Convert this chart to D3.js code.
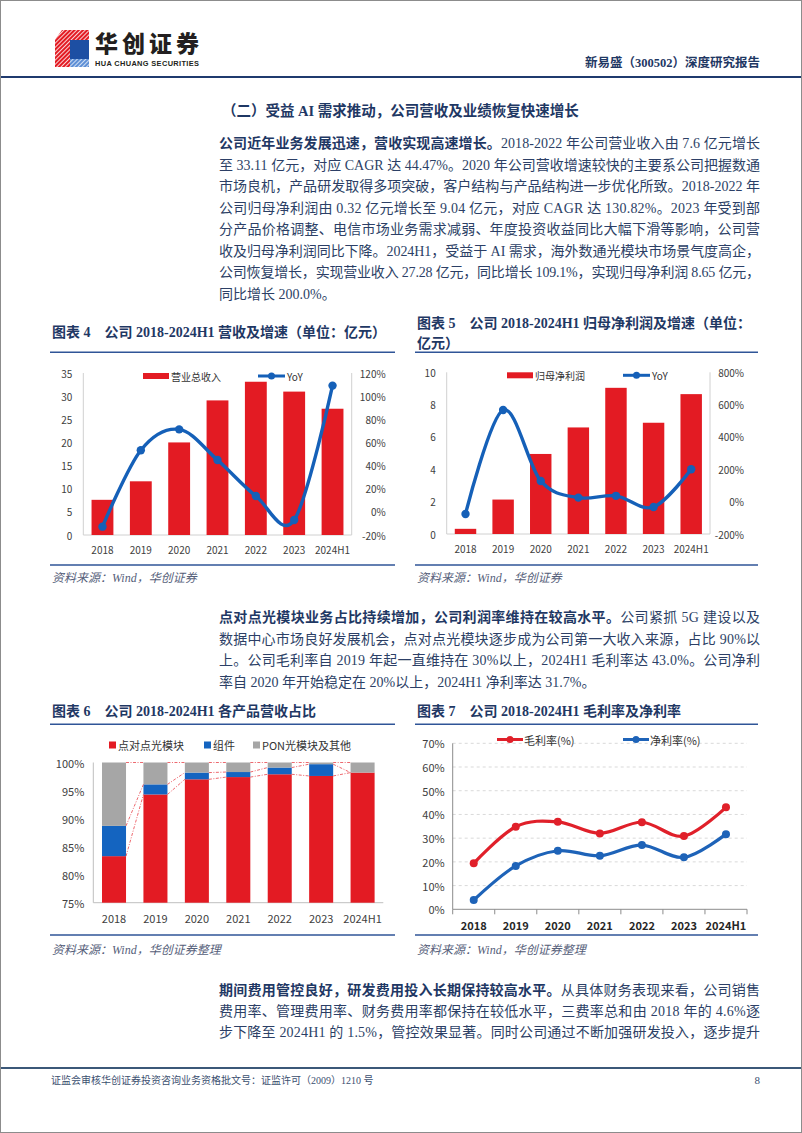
<!DOCTYPE html>
<html><head><meta charset="utf-8">
<script src="https://cdn.jsdelivr.net/npm/d3@7"></script>
<style>
html,body{margin:0;padding:0;background:#fff;}
svg{display:block;}
</style></head><body>
<svg id="page" width="802" height="1133"></svg>
<script>
// ---------- DATA ----------
const years = ["2018","2019","2020","2021","2022","2023","2024H1"];
// 图表4 营收(亿元) & YoY(%)
const revenue = [7.6, 11.6, 20.0, 29.08, 33.11, 30.98, 27.28];
const revenueYoY = [-12.8, 53.2, 71.3, 44.8, 13.7, -7.0, 109.1];
const revTicks = [0,5,10,15,20,25,30,35];
const revYoYTicks = [-20,0,20,40,60,80,100,120];
// 图表5 归母净利润(亿元) & YoY(%)
const netProfit = [0.32, 2.13, 4.95, 6.59, 9.04, 6.88, 8.65];
const netProfitYoY = [-76, 567, 128, 25, 36, -33, 200];
const npTicks = [0,2,4,6,8,10];
const npYoYTicks = [-200,0,200,400,600,800];
// 图表6 各产品营收占比(%)
const shareP2P = [83.3, 94.3, 97.0, 97.4, 97.9, 97.6, 98.2];
const shareModule = [5.4, 1.8, 1.2, 0.9, 1.2, 2.1, 0.0];
const sharePON = [11.3, 3.9, 1.8, 1.7, 0.9, 0.3, 1.8];
const shareTicks = [75,80,85,90,95,100];
// 图表7 毛利率/净利率(%)
const grossMargin = [19.4, 34.8, 36.9, 32.0, 36.7, 30.9, 43.0];
const netMargin = [3.9, 18.3, 24.7, 22.6, 27.1, 21.9, 31.7];
const marginTicks = [0,10,20,30,40,50,60,70];

// ---------- STYLE ----------
const SERIF = '"Liberation Serif","Noto Sans CJK SC",serif';
const SANS = '"Noto Sans CJK SC","Noto Sans",sans-serif';
const NAVY = "#1f3864";
const BODY = "#2c3f66";
const RED = "#e31b23";
const BLUE = "#1560b8";
const GRAY = "#a6a6a6";
const RULE = "#2f5597";

const svg = d3.select("#page");
svg.append("rect").attr("x",0.5).attr("y",0.5).attr("width",801).attr("height",1132)
  .attr("fill","#fff").attr("stroke","#8c8c8c").attr("stroke-width",1);

function textLine(x, y, parts, o) {
  const t = svg.append("text").attr("x", x).attr("y", y)
    .attr("dominant-baseline","central")
    .attr("text-anchor", o.anchor || "start")
    .style("font-family", o.family || SERIF)
    .style("font-size", o.size + "px")
    .style("font-style", o.italic ? "italic" : "normal")
    .attr("fill", o.color || BODY);
  parts.forEach(p => {
    t.append("tspan").text(p.t)
      .attr("font-weight", p.bold ? "bold" : (o.weight || "normal"))
      .attr("fill", p.color || null);
  });
  if (o.width) {
    const nat = t.node().getComputedTextLength();
    const n = Array.from(parts.map(p => p.t).join("")).length;
    t.style("letter-spacing", ((o.width - nat) / (n - 1)) + "px");
  }
  return t;
}

// ---------- HEADER ----------
const logo = svg.append("g");
const defs = svg.append("defs");
defs.append("pattern").attr("id","stripes").attr("patternUnits","userSpaceOnUse")
  .attr("width",3).attr("height",3).attr("patternTransform","rotate(45)")
  .append("rect").attr("width",1).attr("height",3).attr("fill","#fff");
logo.append("polygon").attr("points","55,40 70,40 70,67 55,67").attr("fill",RED);
logo.append("polygon").attr("points","55,40 70,40 70,67 55,67").attr("fill","url(#stripes)").attr("opacity",0.8);
logo.append("polygon").attr("points","62,30 89,30 89,40 55,40").attr("fill",RED);
logo.append("polygon").attr("points","62,30 89,30 89,40 55,40").attr("fill","url(#stripes)").attr("opacity",0.8);
logo.append("rect").attr("x",70).attr("y",40).attr("width",19).attr("height",19).attr("fill","#1d4fa3");
logo.append("rect").attr("x",70).attr("y",59).attr("width",19).attr("height",8).attr("fill","#5d8fd6");
logo.append("rect").attr("x",70).attr("y",59).attr("width",19).attr("height",8).attr("fill","url(#stripes)").attr("opacity",0.7);
textLine(95, 42, [{t:"华创证券"}], {family: SANS, size: 23, weight: "900", color: "#231f20", width: 104});
textLine(95, 62.5, [{t:"HUA CHUANG SECURITIES"}], {family: '"Liberation Sans",sans-serif', size: 7.4, weight: "bold", color: "#231f20", width: 104});
textLine(760, 63, [{t:"新易盛（300502）深度研究报告"}], {size: 12.5, weight: "bold", color: NAVY, anchor: "end"});
svg.append("line").attr("x1",1).attr("x2",801).attr("y1",77).attr("y2",77).attr("stroke","#1f3a6e").attr("stroke-width",2.2);

// ---------- BODY TEXT ----------
const TX = 219, TW = 541;
textLine(222, 111, [{t:"（二）受益 AI 需求推动，公司营收及业绩恢复快速增长"}], {size: 14.5, weight: "bold", color: NAVY});

const para1 = [
  [{t:"公司近年业务发展迅速，营收实现高速增长。", bold:true, color:NAVY},{t:"2018-2022 年公司营业收入由 7.6 亿元增长"}],
  [{t:"至 33.11 亿元，对应 CAGR 达 44.47%。2020 年公司营收增速较快的主要系公司把握数通"}],
  [{t:"市场良机，产品研发取得多项突破，客户结构与产品结构进一步优化所致。2018-2022 年"}],
  [{t:"公司归母净利润由 0.32 亿元增长至 9.04 亿元，对应 CAGR 达 130.82%。2023 年受到部"}],
  [{t:"分产品价格调整、电信市场业务需求减弱、年度投资收益同比大幅下滑等影响，公司营"}],
  [{t:"收及归母净利润同比下降。2024H1，受益于 AI 需求，海外数通光模块市场景气度高企，"}],
  [{t:"公司恢复增长，实现营业收入 27.28 亿元，同比增长 109.1%，实现归母净利润 8.65 亿元，"}],
  [{t:"同比增长 200.0%。"}]
];
para1.forEach((p, i) => textLine(TX, 143 + 21.5 * i, p, {size: 14, width: i < para1.length - 1 ? TW : null}));

const para2 = [
  [{t:"点对点光模块业务占比持续增加，公司利润率维持在较高水平。", bold:true, color:NAVY},{t:"公司紧抓 5G 建设以及"}],
  [{t:"数据中心市场良好发展机会，点对点光模块逐步成为公司第一大收入来源，占比 90%以"}],
  [{t:"上。公司毛利率自 2019 年起一直维持在 30%以上，2024H1 毛利率达 43.0%。公司净利"}],
  [{t:"率自 2020 年开始稳定在 20%以上，2024H1 净利率达 31.7%。"}]
];
para2.forEach((p, i) => textLine(TX, 617 + 21.5 * i, p, {size: 14, width: i < para2.length - 1 ? TW : null}));

const para3 = [
  [{t:"期间费用管控良好，研发费用投入长期保持较高水平。", bold:true, color:NAVY},{t:"从具体财务表现来看，公司销售"}],
  [{t:"费用率、管理费用率、财务费用率都保持在较低水平，三费率总和由 2018 年的 4.6%逐"}],
  [{t:"步下降至 2024H1 的 1.5%，管控效果显著。同时公司通过不断加强研发投入，逐步提升"}]
];
para3.forEach((p, i) => textLine(TX, 990 + 21 * i, p, {size: 14, width: TW}));

// ---------- FOOTER ----------
svg.append("line").attr("x1",1).attr("x2",801).attr("y1",1068).attr("y2",1068).attr("stroke","#3b5878").attr("stroke-width",2);
textLine(51, 1080, [{t:"证监会审核华创证券投资咨询业务资格批文号：证监许可（2009）1210 号"}], {size: 10, color: "#3b4f70"});
textLine(760, 1080, [{t:"8"}], {size: 11, color: "#3b4f70", anchor: "end"});

// ---------- CHART FRAMES ----------
function frame(x0, x1, titleLines, titleY, ruleY, bottomY, source, sourceY) {
  titleLines.forEach((tl, i) => textLine(x0 + 2, titleY + i * 20, tl, {size: 14, weight: "bold", color: NAVY}));
  svg.append("line").attr("x1",x0).attr("x2",x1).attr("y1",ruleY).attr("y2",ruleY).attr("stroke",RULE).attr("stroke-width",1.4);
  svg.append("line").attr("x1",x0).attr("x2",x1).attr("y1",bottomY).attr("y2",bottomY).attr("stroke",RULE).attr("stroke-width",1.4);
  textLine(x0 + 2, sourceY, [{t:source}], {size: 12, italic: true, color: "#56607a"});
}
frame(50, 395, [[{t:"图表 4\u2003公司 2018-2024H1 营收及增速（单位：亿元）"}]], 331.5, 352.3, 565, "资料来源：Wind，华创证券", 577.5);
frame(415, 758, [[{t:"图表 5\u2003公司 2018-2024H1 归母净利润及增速（单位："}],[{t:"亿元）"}]], 323, 352.3, 565, "资料来源：Wind，华创证券", 577.5);
frame(50, 395, [[{t:"图表 6\u2003公司 2018-2024H1 各产品营收占比"}]], 711, 724.3, 935, "资料来源：Wind，华创证券整理", 949.5);
frame(415, 758, [[{t:"图表 7\u2003公司 2018-2024H1 毛利率及净利率"}]], 711, 724.3, 935, "资料来源：Wind，华创证券整理", 949.5);

// ---------- COMBO CHARTS (4, 5) ----------
function combo(o) {
  const g = svg.append("g");
  const x = d3.scaleBand().domain(years).range([o.left, o.right]).paddingInner(0.43).paddingOuter(0.215);
  const yL = d3.scaleLinear().domain(o.lDomain).range([o.bottom, o.top]);
  const yR = d3.scaleLinear().domain(o.rDomain).range([o.bottom, o.top]);
  const axisColor = "#d0d0d0";
  g.append("line").attr("x1",o.left).attr("x2",o.left).attr("y1",o.top).attr("y2",o.bottom).attr("stroke",axisColor);
  g.append("line").attr("x1",o.right).attr("x2",o.right).attr("y1",o.top).attr("y2",o.bottom).attr("stroke",axisColor);
  g.append("line").attr("x1",o.left).attr("x2",o.right).attr("y1",o.bottom).attr("y2",o.bottom).attr("stroke",axisColor);
  const lab = (sel) => sel.style("font-family",SANS).style("font-size","10px").attr("fill","#404040").attr("dominant-baseline","central");
  g.selectAll(".lt").data(o.lTicks).join("text").attr("x",o.left - 11).attr("y",d => yL(d)).attr("text-anchor","end").text(d => d).call(lab);
  g.selectAll(".rt").data(o.rTicks).join("text").attr("x",o.right + 34).attr("y",d => yR(d)).attr("text-anchor","end").text(d => d + "%").call(lab);
  g.selectAll(".xt").data(years).join("text").attr("x",d => x(d) + x.bandwidth()/2).attr("y",o.bottom + 14).attr("text-anchor","middle").text(d => d).call(lab);
  g.selectAll(".bar").data(o.bars).join("rect")
    .attr("x",(d,i) => x(years[i])).attr("width",x.bandwidth())
    .attr("y",d => yL(d)).attr("height",d => yL(0) - yL(d)).attr("fill",RED);
  const line = d3.line().x((d,i) => x(years[i]) + x.bandwidth()/2).y(d => yR(d)).curve(d3.curveCardinal.tension(0));
  g.append("path").datum(o.line).attr("d",line).attr("fill","none").attr("stroke",BLUE).attr("stroke-width",3.4);
  g.selectAll(".dot").data(o.line).join("circle")
    .attr("cx",(d,i) => x(years[i]) + x.bandwidth()/2).attr("cy",d => yR(d)).attr("r",4.2).attr("fill",BLUE);
  const ly = o.top + 3;
  g.append("rect").attr("x",o.legX).attr("y",ly - 3).attr("width",26).attr("height",6).attr("fill",RED);
  g.append("text").attr("x",o.legX + 28).attr("y",ly).text(o.barName).call(lab).attr("fill","#333");
  g.append("line").attr("x1",o.legX2).attr("x2",o.legX2 + 27).attr("y1",ly).attr("y2",ly).attr("stroke",BLUE).attr("stroke-width",3);
  g.append("circle").attr("cx",o.legX2 + 13.5).attr("cy",ly).attr("r",3.5).attr("fill",BLUE);
  g.append("text").attr("x",o.legX2 + 29).attr("y",ly).text("YoY").call(lab).attr("fill","#333");
}
combo({left:83.3, right:351.7, top:373, bottom:535, lDomain:[0,35], rDomain:[-20,120],
  lTicks:revTicks, rTicks:revYoYTicks, bars:revenue, line:revenueYoY, barName:"营业总收入", legX:143, legX2:258});
combo({left:446.7, right:710, top:372.3, bottom:534, lDomain:[0,10], rDomain:[-200,800],
  lTicks:npTicks, rTicks:npYoYTicks, bars:netProfit, line:netProfitYoY, barName:"归母净利润", legX:507, legX2:623});

// ---------- CHART 6: stacked share ----------
(function(){
  const left = 93.3, right = 383.3, top = 762.5, bottom = 902.7;
  const g = svg.append("g");
  const x = d3.scaleBand().domain(years).range([left, right]).paddingInner(0.42).paddingOuter(0.21);
  const y = d3.scaleLinear().domain([75,100]).range([bottom, top]);
  const lab = (sel) => sel.style("font-family",SANS).style("font-size","11px").attr("fill","#404040").attr("dominant-baseline","central");
  g.append("line").attr("x1",left).attr("x2",left).attr("y1",top).attr("y2",bottom).attr("stroke","#bfbfbf");
  g.append("line").attr("x1",left).attr("x2",right).attr("y1",bottom).attr("y2",bottom).attr("stroke","#bfbfbf");
  g.selectAll(".lt").data(shareTicks).join("text").attr("x",left - 9).attr("y",d => y(d)).attr("text-anchor","end").text(d => d + "%").call(lab);
  g.selectAll(".xt").data(years).join("text").attr("x",d => x(d) + x.bandwidth()/2).attr("y",bottom + 15).attr("text-anchor","middle").text(d => d).call(lab);
  const series = [
    {name:"点对点光模块", vals:shareP2P, color:RED},
    {name:"组件", vals:shareModule, color:"#1464c0"},
    {name:"PON光模块及其他", vals:sharePON, color:GRAY}
  ];
  const stacks = years.map((yr,i) => {
    let acc = 0;
    return series.map(s => { const y0 = acc; acc += s.vals[i]; return {y0, y1: acc, color: s.color}; });
  });
  stacks.forEach((st, i) => {
    st.forEach(seg => {
      const a = Math.max(seg.y0, 75), b = Math.min(seg.y1, 100);
      if (b > a) g.append("rect").attr("x",x(years[i])).attr("width",x.bandwidth())
        .attr("y",y(b)).attr("height",y(a) - y(b)).attr("fill",seg.color);
    });
  });
  for (let i = 0; i < years.length - 1; i++) {
    for (let k = 0; k < series.length; k++) {
      const v0 = Math.min(stacks[i][k].y1, 100), v1 = Math.min(stacks[i+1][k].y1, 100);
      g.append("line").attr("x1",x(years[i]) + x.bandwidth()).attr("x2",x(years[i+1]))
        .attr("y1",y(v0)).attr("y2",y(v1)).attr("stroke","#e8434a").attr("stroke-width",0.8)
        .attr("stroke-dasharray","3,1.5,1,1.5");
    }
  }
  const ly = 745;
  const legX = [109, 204, 253];
  series.forEach((s, k) => {
    g.append("rect").attr("x",legX[k]).attr("y",ly - 3.5).attr("width",7).attr("height",7).attr("fill",s.color);
    g.append("text").attr("x",legX[k] + 9).attr("y",ly).text(s.name).call(lab).attr("fill","#333");
  });
})();

// ---------- CHART 7: margins ----------
(function(){
  const left = 452.7, right = 747, top = 743.3, bottom = 909.3;
  const g = svg.append("g");
  const x = d3.scaleBand().domain(years).range([left, right]);
  const y = d3.scaleLinear().domain([0,70]).range([bottom, top]);
  const lab = (sel) => sel.style("font-family",SANS).style("font-size","11px").attr("fill","#404040").attr("dominant-baseline","central");
  g.selectAll(".grid").data(marginTicks.filter(d => d > 0)).join("line")
    .attr("x1",left).attr("x2",right).attr("y1",d => y(d)).attr("y2",d => y(d))
    .attr("stroke","#d9d9d9").attr("stroke-dasharray","3,3");
  g.append("line").attr("x1",left).attr("x2",left).attr("y1",top).attr("y2",bottom).attr("stroke","#8c8c8c");
  g.append("line").attr("x1",left).attr("x2",right).attr("y1",bottom).attr("y2",bottom).attr("stroke","#8c8c8c");
  const bounds = years.map(d => x(d)).concat([right]);
  g.selectAll(".tk").data(bounds).join("line").attr("x1",d => d).attr("x2",d => d).attr("y1",bottom).attr("y2",bottom + 5).attr("stroke","#8c8c8c");
  g.selectAll(".lt").data(marginTicks).join("text").attr("x",left - 8).attr("y",d => y(d)).attr("text-anchor","end").text(d => d + "%").call(lab);
  g.selectAll(".xt").data(years).join("text").attr("x",d => x(d) + x.bandwidth()/2).attr("y",bottom + 16)
    .attr("text-anchor","middle").text(d => d).call(lab).attr("font-weight","bold").attr("fill","#262626");
  const cx = (d,i) => x(years[i]) + x.bandwidth()/2;
  const series = [
    {name:"毛利率(%)", vals:grossMargin, color:"#e0202a", legX:497},
    {name:"净利率(%)", vals:netMargin, color:"#1e63b8", legX:623}
  ];
  series.forEach(s => {
    const line = d3.line().x(cx).y(d => y(d)).curve(d3.curveCardinal.tension(0));
    g.append("path").datum(s.vals).attr("d",line).attr("fill","none").attr("stroke",s.color).attr("stroke-width",3.2);
    g.selectAll(null).data(s.vals).join("circle").attr("cx",cx).attr("cy",d => y(d)).attr("r",4).attr("fill",s.color);
    const ly = 739.5;
    g.append("line").attr("x1",s.legX).attr("x2",s.legX + 26).attr("y1",ly).attr("y2",ly).attr("stroke",s.color).attr("stroke-width",3);
    g.append("circle").attr("cx",s.legX + 13).attr("cy",ly).attr("r",3.5).attr("fill",s.color);
    g.append("text").attr("x",s.legX + 27).attr("y",ly).text(s.name).call(lab).attr("fill","#333");
  });
})();
</script>
</body></html>
